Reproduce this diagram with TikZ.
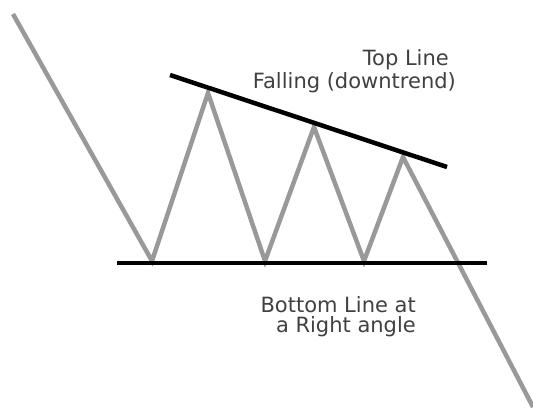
\documentclass[tikz,border=0pt]{standalone}
\usepackage{fontspec}
\setmainfont{DejaVu Sans}
\begin{document}
\begin{tikzpicture}[x=1pt,y=-1pt,
  price/.style={draw=black!40,line width=4.5pt,line join=miter},
  trend/.style={draw=black,line width=4.5pt},
  lbl/.style={font=\fontsize{21}{24}\selectfont,text=black!75,inner sep=0pt,anchor=east}]
\useasboundingbox (0,0) rectangle (533,410);
\coordinate (s) at (13,14);
\coordinate (t1) at (152,261);
\coordinate (p1) at (208,93);
\coordinate (t2) at (265,261);
\coordinate (p2) at (314,127);
\coordinate (t3) at (364,261);
\coordinate (p3) at (403,157);
\coordinate (e) at (533,407);
\draw[price] (s) -- (t1) -- (p1) -- (t2) -- (p2) -- (t3) -- (p3) -- (e);
\coordinate (a1) at (170,75);
\coordinate (a2) at (447,167);
\draw[trend] (a1) -- (a2);
\coordinate (b1) at (117,263);
\coordinate (b2) at (487,263);
\draw[trend] (b1) -- (b2);
\node[lbl] (tl1) at (449,60) {Top Line};
\node[lbl] (tl2) at (456,83) {Falling (downtrend)};
\node[lbl] (bl1) at (416,305) {Bottom Line at};
\node[lbl] (bl2) at (416,327) {a Right angle};
\end{tikzpicture}
\end{document}
